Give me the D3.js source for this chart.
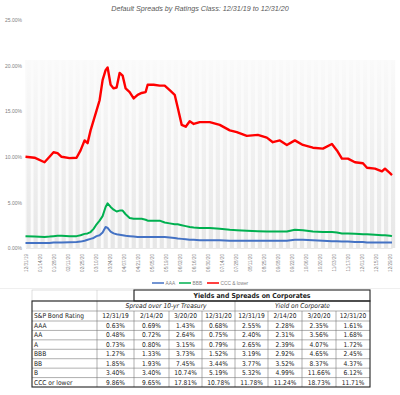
<!DOCTYPE html>
<html><head><meta charset="utf-8">
<script src="https://cdn.jsdelivr.net/npm/d3@7"></script>
<style>
html,body{margin:0;padding:0;background:#fff;}
svg{display:block;}
.narrow{font-family:"Liberation Sans Narrow","DejaVu Sans Condensed","Liberation Sans",sans-serif;}
</style></head>
<body>
<svg id="c" width="400" height="395"></svg>
<script>
const title = "Default Spreads by Ratings Class: 12/31/19 to 12/31/20";
const seriesNames = ["AAA", "BBB", "CCC & lower"];
const seriesColors = ["#4472c4", "#00b050", "#ff0000"];
const dates = ["2019-12-31","2020-01-09","2020-01-19","2020-01-24","2020-01-28","2020-02-01","2020-02-05","2020-02-13","2020-02-20","2020-02-24",
"2020-02-28","2020-03-02","2020-03-05","2020-03-08","2020-03-11","2020-03-14","2020-03-17","2020-03-20","2020-03-22","2020-03-25",
"2020-03-28","2020-03-31","2020-04-03","2020-04-06","2020-04-09","2020-04-13","2020-04-17","2020-04-21","2020-04-25","2020-04-29",
"2020-05-01","2020-05-07","2020-05-13","2020-05-18","2020-05-23","2020-05-28","2020-05-31","2020-06-04","2020-06-08","2020-06-12",
"2020-06-16","2020-06-22","2020-07-02","2020-07-12","2020-07-22","2020-07-29","2020-08-08","2020-08-19","2020-08-28","2020-09-03",
"2020-09-10","2020-09-17","2020-09-25","2020-10-03","2020-10-13","2020-10-23","2020-11-01","2020-11-06","2020-11-11","2020-11-17",
"2020-11-24","2020-12-02","2020-12-06","2020-12-14","2020-12-21","2020-12-24","2020-12-29","2020-12-31"];
const aaa = [0.55,0.55,0.55,0.55,0.6,0.6,0.6,0.62,0.65,0.7,
0.8,0.9,1.0,1.1,1.3,1.4,1.7,2.3,2.2,1.8,
1.6,1.5,1.45,1.4,1.35,1.3,1.25,1.2,1.2,1.2,
1.2,1.2,1.2,1.2,1.15,1.1,1.05,1.0,0.95,0.9,
0.9,0.85,0.85,0.85,0.8,0.8,0.8,0.8,0.8,0.8,
0.8,0.8,0.9,0.9,0.85,0.8,0.75,0.75,0.7,0.7,
0.65,0.65,0.6,0.6,0.6,0.6,0.6,0.6];
const bbb = [1.3,1.25,1.2,1.25,1.3,1.35,1.35,1.3,1.3,1.4,
1.55,1.6,1.75,2.1,2.6,3.0,3.5,4.5,4.9,4.5,
4.2,4.0,4.1,4.1,3.7,3.3,3.2,3.2,3.2,3.1,
3.0,3.0,3.0,2.8,2.7,2.6,2.6,2.5,2.4,2.3,
2.25,2.2,2.2,2.1,2.0,1.95,1.9,1.85,1.8,1.8,
1.8,1.8,2.0,1.95,1.8,1.75,1.75,1.7,1.6,1.6,
1.55,1.5,1.5,1.45,1.4,1.4,1.35,1.3];
const ccc = [10.0,9.9,9.4,10.0,10.5,10.4,10.0,9.85,9.9,10.7,
11.8,11.5,12.9,14.0,15.1,16.2,18.4,19.5,19.8,17.9,
17.5,17.6,19.2,18.9,17.5,17.1,16.4,16.8,17.0,17.1,
17.9,17.9,17.8,17.8,17.3,16.8,15.4,13.5,13.3,13.9,
13.6,13.8,13.8,13.5,12.9,12.7,12.3,12.4,12.1,11.6,
11.8,11.3,11.8,11.3,11.0,10.9,11.4,10.7,9.8,9.8,
9.4,9.3,8.8,8.7,8.4,8.7,8.2,8.0];
const yTicks = [0, 5, 10, 15, 20, 25];

const tableTitle = "Yields and Spreads on Corporates";
const groupLabels = ["Spread over 10-yr Treasury", "Yield on Corporate"];
const rowHeader = "S&P Bond Rating";
const colDates = ["12/31/19", "2/14/20", "3/20/20", "12/31/20"];
const ratings = ["AAA", "AA", "A", "BBB", "BB", "B", "CCC or lower"];
const spread1231 = [0.63, 0.48, 0.73, 1.27, 1.85, 3.40, 9.86];
const spread0214 = [0.69, 0.72, 0.80, 1.33, 1.93, 3.40, 9.65];
const spread0320 = [1.43, 2.64, 3.15, 3.73, 7.45, 10.74, 17.81];
const spread1231b = [0.68, 0.75, 0.79, 1.52, 3.44, 5.19, 10.78];
const yield1231 = [2.55, 2.40, 2.65, 3.19, 3.77, 5.32, 11.78];
const yield0214 = [2.28, 2.31, 2.39, 2.92, 3.52, 4.99, 11.24];
const yield0320 = [2.35, 3.56, 4.07, 4.65, 8.37, 11.66, 18.73];
const yield1231b = [1.61, 1.68, 1.72, 2.45, 4.37, 6.12, 11.71];

const svg = d3.select("#c");
const parse = d3.timeParse("%Y-%m-%d");
const D = dates.map(parse);
const x = d3.scaleTime().domain([parse("2019-12-31"), parse("2020-12-31")]).range([25.5, 392]);
const y = d3.scaleLinear().domain([0, 25]).range([248, 20]);

// title
svg.append("text").attr("x", 200).attr("y", 11).attr("text-anchor", "middle")
  .attr("font-family", "Liberation Sans, sans-serif").attr("font-style", "italic")
  .attr("font-size", 7.2).attr("fill", "#595959").text(title);

// plot background with stripes
const defs = svg.append("defs");
const g1 = defs.append("linearGradient").attr("id", "sg").attr("x1", 0).attr("y1", 0).attr("x2", 0).attr("y2", 1);
g1.append("stop").attr("offset", "0%").attr("stop-color", "#fafafa");
g1.append("stop").attr("offset", "100%").attr("stop-color", "#e6e6e6");
svg.append("rect").attr("x", 25).attr("y", y(20.6)).attr("width", 368).attr("height", y(0) - y(20.6)).attr("fill", "#fbfbfb");
const weeks = d3.timeDay.range(parse("2019-12-31"), parse("2020-12-31"), 7);
svg.append("g").selectAll("rect").data(weeks).join("rect")
  .attr("x", d => x(d) + 1).attr("y", y(20.6)).attr("width", 4.2)
  .attr("height", y(0) - y(20.6)).attr("fill", "url(#sg)");

// y axis
const yAxis = d3.axisLeft(y).tickValues(yTicks).tickSize(0).tickPadding(3).tickFormat(d => d.toFixed(2) + "%");
const ya = svg.append("g").attr("transform", "translate(25,0)").call(yAxis);
ya.select(".domain").remove();
ya.selectAll("text").attr("font-size", 5).attr("fill", "#7f7f7f").attr("font-family", "Liberation Sans, sans-serif");

// x axis
const xTicks = d3.timeDay.range(parse("2019-12-31"), parse("2021-01-01"), 14);
const xAxis = d3.axisBottom(x).tickValues(xTicks).tickSize(0).tickFormat(d3.timeFormat("%m/%d/%y"));
const xa = svg.append("g").attr("transform", "translate(0,248)").call(xAxis);
xa.select(".domain").attr("stroke", "#d9d9d9").attr("stroke-width", 0.6);
xa.selectAll("text").attr("font-size", 4.6).attr("fill", "#7f7f7f").attr("font-family", "Liberation Sans, sans-serif")
  .attr("text-anchor", "end").attr("transform", "rotate(-90)").attr("x", -6).attr("y", 0).attr("dy", "0.35em");

// lines
const series = [aaa, bbb, ccc];
const widths = [2, 2, 2.4];
const line = d3.line().x((d, i) => x(D[i])).y(d => y(d)).curve(d3.curveLinear);
series.forEach((s, k) => {
  svg.append("path").datum(s).attr("d", line).attr("fill", "none")
    .attr("stroke", seriesColors[k]).attr("stroke-width", widths[k]).attr("stroke-linejoin", "round");
});

// legend
const legX = [152, 179, 207];
seriesNames.forEach((n, k) => {
  svg.append("line").attr("x1", legX[k]).attr("x2", legX[k] + 12).attr("y1", 283).attr("y2", 283)
    .attr("stroke", seriesColors[k]).attr("stroke-width", 1.5);
  svg.append("text").attr("x", legX[k] + 13.5).attr("y", 284.8).attr("font-size", 4.8)
    .attr("font-family", "Liberation Sans, sans-serif").attr("fill", "#7f7f7f").text(n);
});
svg.append("line").attr("x1", 0).attr("x2", 400).attr("y1", 288.5).attr("y2", 288.5).attr("stroke", "#e4e4e4").attr("stroke-width", 0.6);

// table
const colX = [32, 97, 134, 169, 202, 235, 268, 302, 336, 370];
const rowY = [290, 301, 311, 321];
const rh = (387 - 321) / 7;
for (let i = 1; i <= 7; i++) rowY.push(321 + rh * i);
const T = svg.append("g").attr("class", "narrow");
const thin = "#7a7a7a";
// light header row cells
T.append("rect").attr("x", colX[0]).attr("y", rowY[0]).attr("width", colX[2] - colX[0]).attr("height", rowY[1] - rowY[0])
  .attr("fill", "none").attr("stroke", "#bfbfbf").attr("stroke-width", 0.5);
T.append("line").attr("x1", colX[1]).attr("x2", colX[1]).attr("y1", rowY[0]).attr("y2", rowY[1]).attr("stroke", "#bfbfbf").attr("stroke-width", 0.5);
// horizontal lines rows
for (let r = 2; r < rowY.length - 1; r++) {
  T.append("line").attr("x1", colX[0]).attr("x2", colX[9]).attr("y1", rowY[r]).attr("y2", rowY[r]).attr("stroke", thin).attr("stroke-width", 0.6);
}
// vertical lines
for (let c = 1; c < 9; c++) {
  const y0 = (c === 1 || c === 5) ? rowY[1] : rowY[2];
  T.append("line").attr("x1", colX[c]).attr("x2", colX[c]).attr("y1", y0).attr("y2", rowY[10]).attr("stroke", thin).attr("stroke-width", 0.6);
}
// thick borders
T.append("rect").attr("x", colX[0]).attr("y", rowY[1]).attr("width", colX[9] - colX[0]).attr("height", rowY[10] - rowY[1])
  .attr("fill", "none").attr("stroke", "#222").attr("stroke-width", 1.1);
T.append("rect").attr("x", colX[2]).attr("y", rowY[0]).attr("width", colX[9] - colX[2]).attr("height", rowY[1] - rowY[0])
  .attr("fill", "none").attr("stroke", "#222").attr("stroke-width", 1.1);

const fs = 6.6, tc = "#222";
T.append("text").attr("x", (colX[2] + colX[9]) / 2).attr("y", (rowY[0] + rowY[1]) / 2).attr("dy", "0.35em")
  .attr("text-anchor", "middle").attr("font-weight", "bold").attr("font-size", 6.8).attr("fill", tc).text(tableTitle);
T.append("text").attr("x", (colX[1] + colX[5]) / 2).attr("y", (rowY[1] + rowY[2]) / 2).attr("dy", "0.35em")
  .attr("text-anchor", "middle").attr("font-style", "italic").attr("font-size", fs).attr("fill", tc).text(groupLabels[0]);
T.append("text").attr("x", (colX[5] + colX[9]) / 2).attr("y", (rowY[1] + rowY[2]) / 2).attr("dy", "0.35em")
  .attr("text-anchor", "middle").attr("font-style", "italic").attr("font-size", fs).attr("fill", tc).text(groupLabels[1]);
T.append("text").attr("x", colX[0] + 2).attr("y", (rowY[2] + rowY[3]) / 2).attr("dy", "0.35em")
  .attr("font-size", fs).attr("fill", tc).text(rowHeader);
const headers = colDates.concat(colDates);
headers.forEach((h, c) => {
  T.append("text").attr("x", (colX[c + 1] + colX[c + 2]) / 2).attr("y", (rowY[2] + rowY[3]) / 2).attr("dy", "0.35em")
    .attr("text-anchor", "middle").attr("font-size", fs).attr("fill", tc).text(h);
});
const cols = [spread1231, spread0214, spread0320, spread1231b, yield1231, yield0214, yield0320, yield1231b];
ratings.forEach((rt, r) => {
  const cy = (rowY[3 + r] + rowY[4 + r]) / 2;
  T.append("text").attr("x", colX[0] + 2).attr("y", cy).attr("dy", "0.35em").attr("font-size", fs).attr("fill", tc).text(rt);
  cols.forEach((col, c) => {
    T.append("text").attr("x", (colX[c + 1] + colX[c + 2]) / 2).attr("y", cy).attr("dy", "0.35em")
      .attr("text-anchor", "middle").attr("font-size", fs).attr("fill", tc).text(col[r].toFixed(2) + "%");
  });
});
</script>
</body></html>
